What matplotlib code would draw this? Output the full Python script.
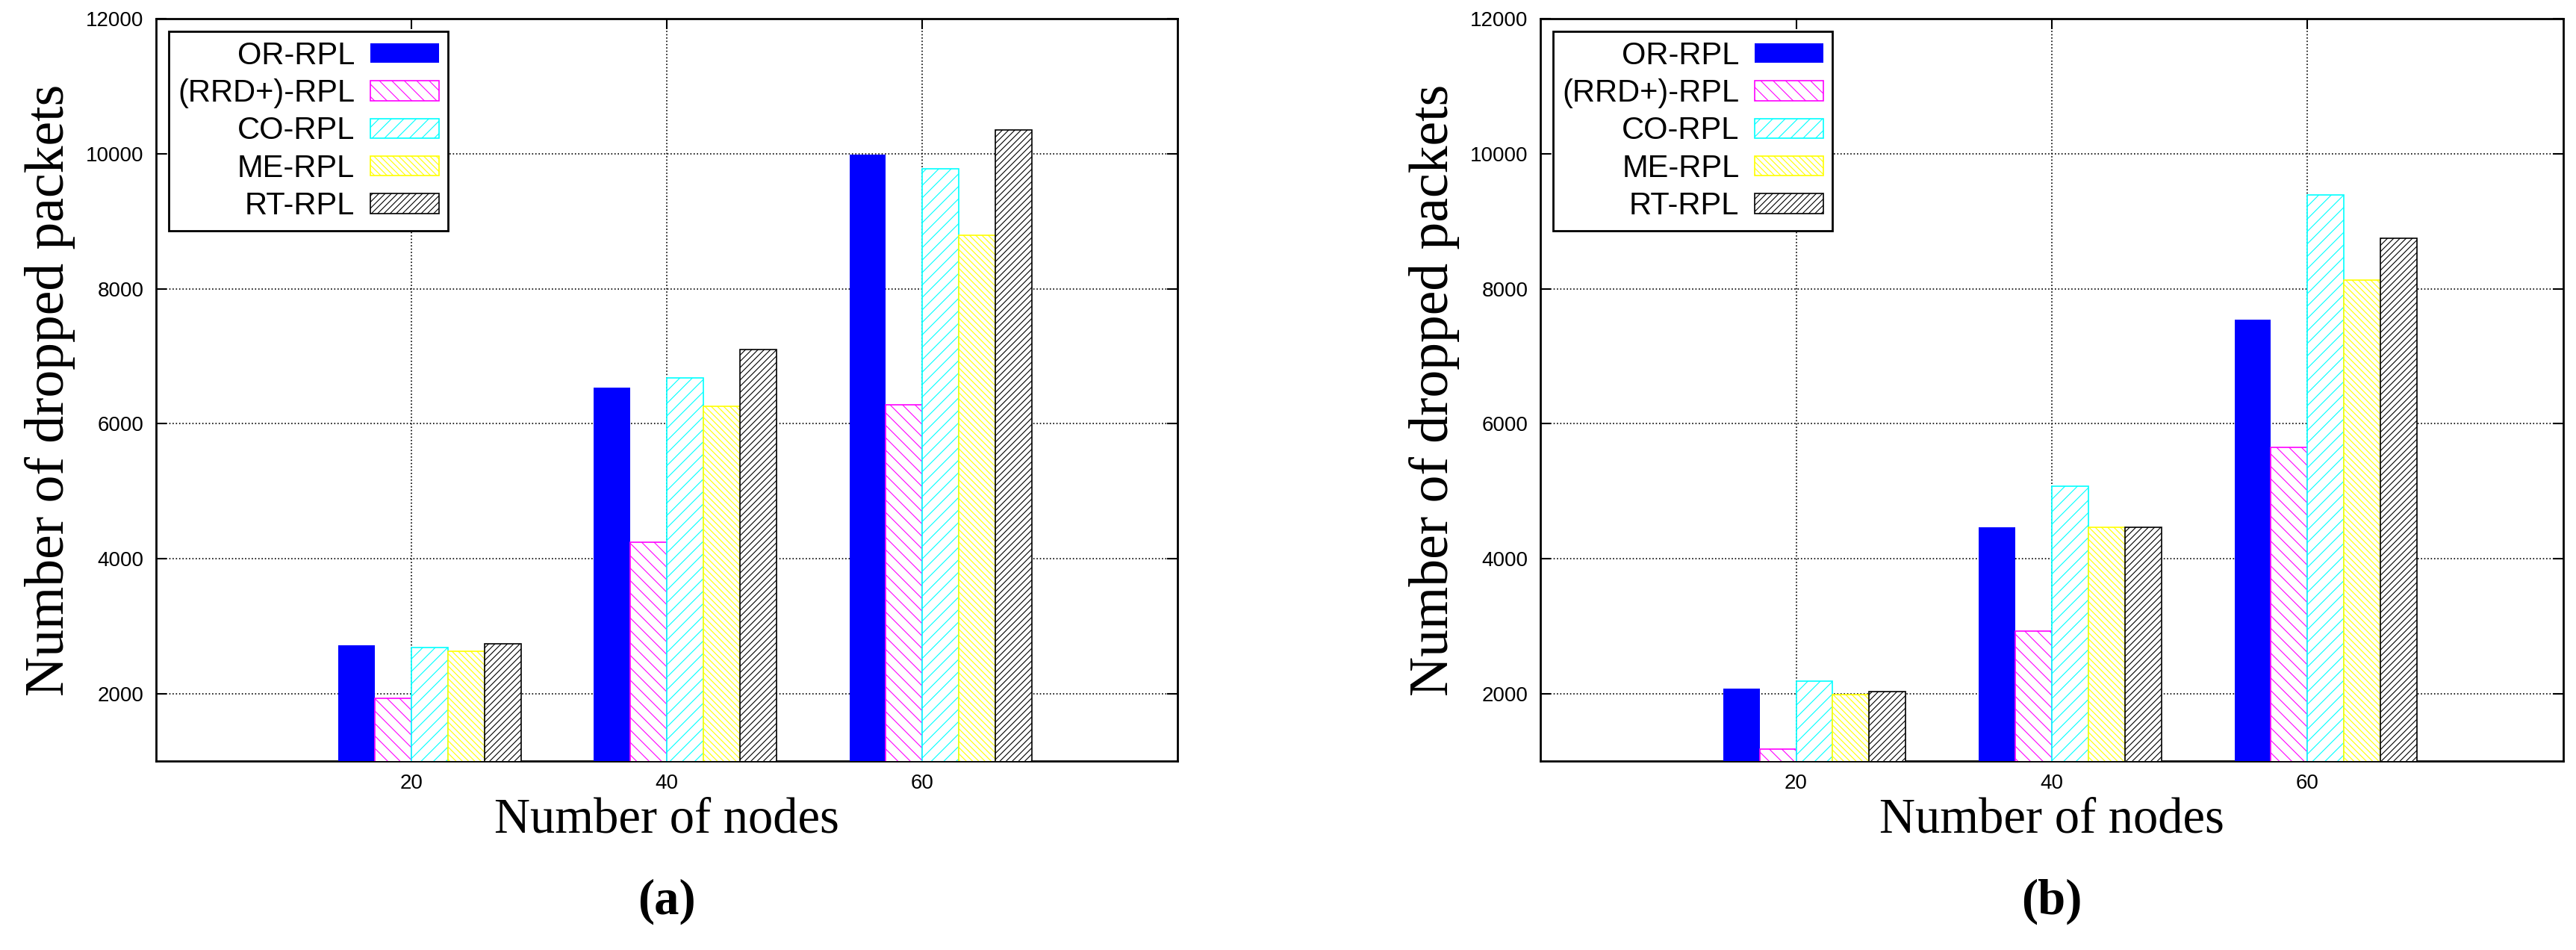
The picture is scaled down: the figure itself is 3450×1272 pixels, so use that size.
import numpy as np
import matplotlib.pyplot as plt

nodes = ['20', '40', '60']
series = ['OR-RPL', '(RRD+)-RPL', 'CO-RPL', 'ME-RPL', 'RT-RPL']

# (a)
drops_a = {
    'OR-RPL': [2720, 6540, 9990],
    '(RRD+)-RPL': [1930, 4240, 6280],
    'CO-RPL': [2680, 6680, 9780],
    'ME-RPL': [2630, 6260, 8790],
    'RT-RPL': [2740, 7100, 10350],
}
# (b)
drops_b = {
    'OR-RPL': [2070, 4460, 7540],
    '(RRD+)-RPL': [1180, 2920, 5650],
    'CO-RPL': [2180, 5070, 9390],
    'ME-RPL': [1980, 4460, 8130],
    'RT-RPL': [2030, 4460, 8750],
}

colors = ['#0000ff', '#ff00ff', '#00ffff', '#ffff00', '#000000']
hatches = [None, '\\\\', '//', '\\\\\\\\', '////']

plt.rcParams['hatch.linewidth'] = 0.8
sans = ['Liberation Sans Narrow', 'Liberation Sans']

fig = plt.figure(figsize=(34.5, 12.72), dpi=100)
axes = [fig.add_axes([0.0606, 0.199, 0.3966, 0.781]),
        fig.add_axes([0.598, 0.199, 0.397, 0.781])]

x = np.arange(len(nodes))
w = 1 / 7
for ax, data, cap in zip(axes, [drops_a, drops_b], ['(a)', '(b)']):
    for i, name in enumerate(series):
        c = colors[i]
        if hatches[i] is None:
            ax.bar(x + (i - 1.5) * w, data[name], w, bottom=0, color=c, label=name, zorder=3)
        else:
            plt.rcParams['hatch.color'] = c
            ax.bar(x + (i - 1.5) * w, data[name], w, bottom=0, facecolor='white',
                   edgecolor=c, hatch=hatches[i], linewidth=1.2, label=name, zorder=3)
    ax.set_xlim(-1, 3)
    ax.set_ylim(1000, 12000)
    ax.set_yticks([2000, 4000, 6000, 8000, 10000, 12000])
    ax.set_xticks(x)
    ax.set_xticklabels(nodes)
    ax.tick_params(direction='in', top=True, right=True, length=10, width=1.5,
                   labelsize=20, pad=12)
    for lab in ax.get_xticklabels() + ax.get_yticklabels():
        lab.set_family(sans)
    for s in ax.spines.values():
        s.set_linewidth(2)
    ax.grid(True, linestyle=':', color='black', linewidth=1.2, zorder=0)
    ax.set_axisbelow(True)
    ax.set_ylabel('Number of dropped packets', family='Liberation Serif', fontsize=53, labelpad=10)
    ax.set_xlabel('Number of nodes', family='Liberation Serif', fontsize=48, labelpad=4)
    leg = ax.legend(loc='upper left', markerfirst=False, fancybox=False, framealpha=1,
                    edgecolor='black', prop={'family': sans, 'size': 30},
                    handlelength=2.2, handleheight=0.6, labelspacing=0.25,
                    borderaxespad=0.4, borderpad=0.3, handletextpad=0.5)
    leg.get_frame().set_linewidth(2)
    for t in leg.get_texts():
        t.set_ha('right')
    ax.text(0.5, -0.19, cap, transform=ax.transAxes, ha='center', va='center',
            family='Liberation Serif', fontsize=48, fontweight='bold')

fig.savefig('out.png')
